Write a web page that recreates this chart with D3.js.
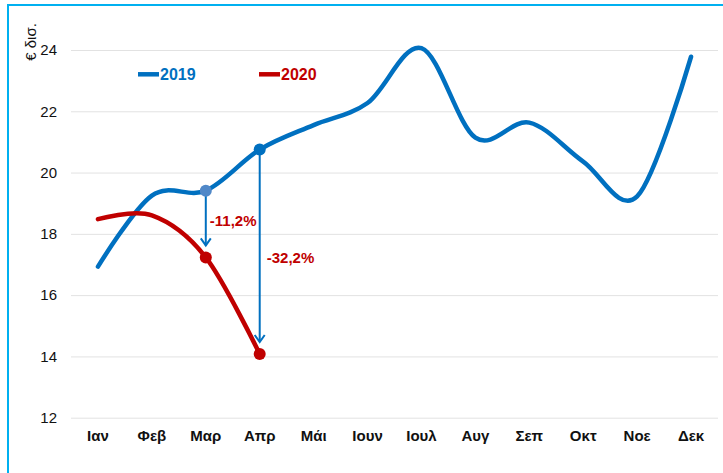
<!DOCTYPE html>
<html>
<head>
<meta charset="utf-8">
<script src="https://d3js.org/d3.v7.min.js"></script>
<style>
  body { margin: 0; background: #fff; }
  text { font-family: Arial, "Liberation Sans", sans-serif; }
</style>
</head>
<body>
<div id="chart"></div>
<script>
// Données
const months = ["Ιαν", "Φεβ", "Μαρ", "Απρ", "Μάι", "Ιουν", "Ιουλ", "Αυγ", "Σεπ", "Οκτ", "Νοε", "Δεκ"];
const values2019 = [16.93, 19.25, 19.41, 20.75, 21.55, 22.27, 24.06, 21.14, 21.63, 20.36, 19.22, 23.78];
const values2020 = [18.48, 18.6, 17.23, 14.08];
const yTicks = [12, 14, 16, 18, 20, 22, 24];
const changes = [
  { month: "Μαρ", label: "-11,2%" },
  { month: "Απρ", label: "-32,2%" }
];

const width = 723;
const height = 473;
const blue = "#0070C0";
const red = "#C00000";

const svg = d3.select("#chart").append("svg")
  .attr("width", width)
  .attr("height", height);

// Cadre
svg.append("path")
  .attr("d", "M8,473 V5 H723")
  .attr("fill", "none")
  .attr("stroke", "#00B0F0")
  .attr("stroke-width", 2);

// Échelles
const x = d3.scaleBand().domain(months).range([71, 718]);
const y = d3.scaleLinear().domain([12, 24]).range([417.7, 50]);
const cx = (m) => x(m) + x.bandwidth() / 2;

// Axe Y + grille
const yAxis = svg.append("g")
  .attr("transform", "translate(71,0)")
  .call(d3.axisLeft(y).tickValues(yTicks).tickSize(-(718 - 71)).tickPadding(14));
yAxis.select(".domain").remove();
yAxis.selectAll("line").attr("stroke", "#e2e2e2");
yAxis.selectAll("text").attr("font-size", 15).attr("fill", "#111")
  .style("font-family", "Arial, 'Liberation Sans', sans-serif");

// Axe X
const xAxis = svg.append("g")
  .attr("transform", `translate(0,${y(12)})`)
  .call(d3.axisBottom(x).tickSize(0).tickPadding(13));
xAxis.select(".domain").remove();
xAxis.selectAll("text").attr("font-size", 15).attr("font-weight", "bold").attr("fill", "#111")
  .style("font-family", "Arial, 'Liberation Sans', sans-serif");

// Titre axe Y
svg.append("text")
  .attr("transform", "translate(36,42) rotate(-90)")
  .attr("text-anchor", "middle")
  .attr("font-size", 15)
  .attr("fill", "#111")
  .text("€ δισ.");

// Lignes
const line = d3.line()
  .x((d, i) => cx(months[i]))
  .y((d) => y(d))
  .curve(d3.curveCardinal.tension(0));

svg.append("path")
  .datum(values2019)
  .attr("d", line)
  .attr("fill", "none")
  .attr("stroke", blue)
  .attr("stroke-width", 4.5)
  .attr("stroke-linecap", "round");

svg.append("path")
  .datum(values2020)
  .attr("d", line)
  .attr("fill", "none")
  .attr("stroke", red)
  .attr("stroke-width", 4.5)
  .attr("stroke-linecap", "round");

// Flèches de variation
changes.forEach((c, k) => {
  const i = months.indexOf(c.month);
  const xp = cx(c.month);
  const y1 = y(values2019[i]);
  const y2 = y(values2020[i]);
  const tip = y2 - 12;
  svg.append("line")
    .attr("x1", xp).attr("x2", xp)
    .attr("y1", y1).attr("y2", tip)
    .attr("stroke", blue).attr("stroke-width", 2);
  svg.append("path")
    .attr("d", `M${xp - 5},${tip - 7} L${xp},${tip} L${xp + 5},${tip - 7}`)
    .attr("fill", "none")
    .attr("stroke", blue)
    .attr("stroke-width", 2);
  svg.append("text")
    .attr("x", xp + (k === 0 ? 4 : 7))
    .attr("y", y1 + (y2 - y1) * (k === 0 ? 0.45 : 0.53))
    .attr("dy", "0.35em")
    .attr("font-size", 15)
    .attr("font-weight", "bold")
    .attr("fill", red)
    .text(c.label);

  // Points
  svg.append("circle")
    .attr("cx", xp).attr("cy", y1).attr("r", 6)
    .attr("fill", k === 0 ? "#5088c8" : blue);
  svg.append("circle")
    .attr("cx", xp).attr("cy", y2).attr("r", 6)
    .attr("fill", red);
});

// Légende
const legend = [
  { label: "2019", color: blue, x: 138 },
  { label: "2020", color: red, x: 259 }
];
legend.forEach((l) => {
  svg.append("line")
    .attr("x1", l.x).attr("x2", l.x + 21)
    .attr("y1", 74.3).attr("y2", 74.3)
    .attr("stroke", l.color).attr("stroke-width", 4.5);
  svg.append("text")
    .attr("x", l.x + 22)
    .attr("y", 80)
    .attr("font-size", 16)
    .attr("font-weight", "bold")
    .attr("fill", l.color)
    .text(l.label);
});
</script>
</body>
</html>
